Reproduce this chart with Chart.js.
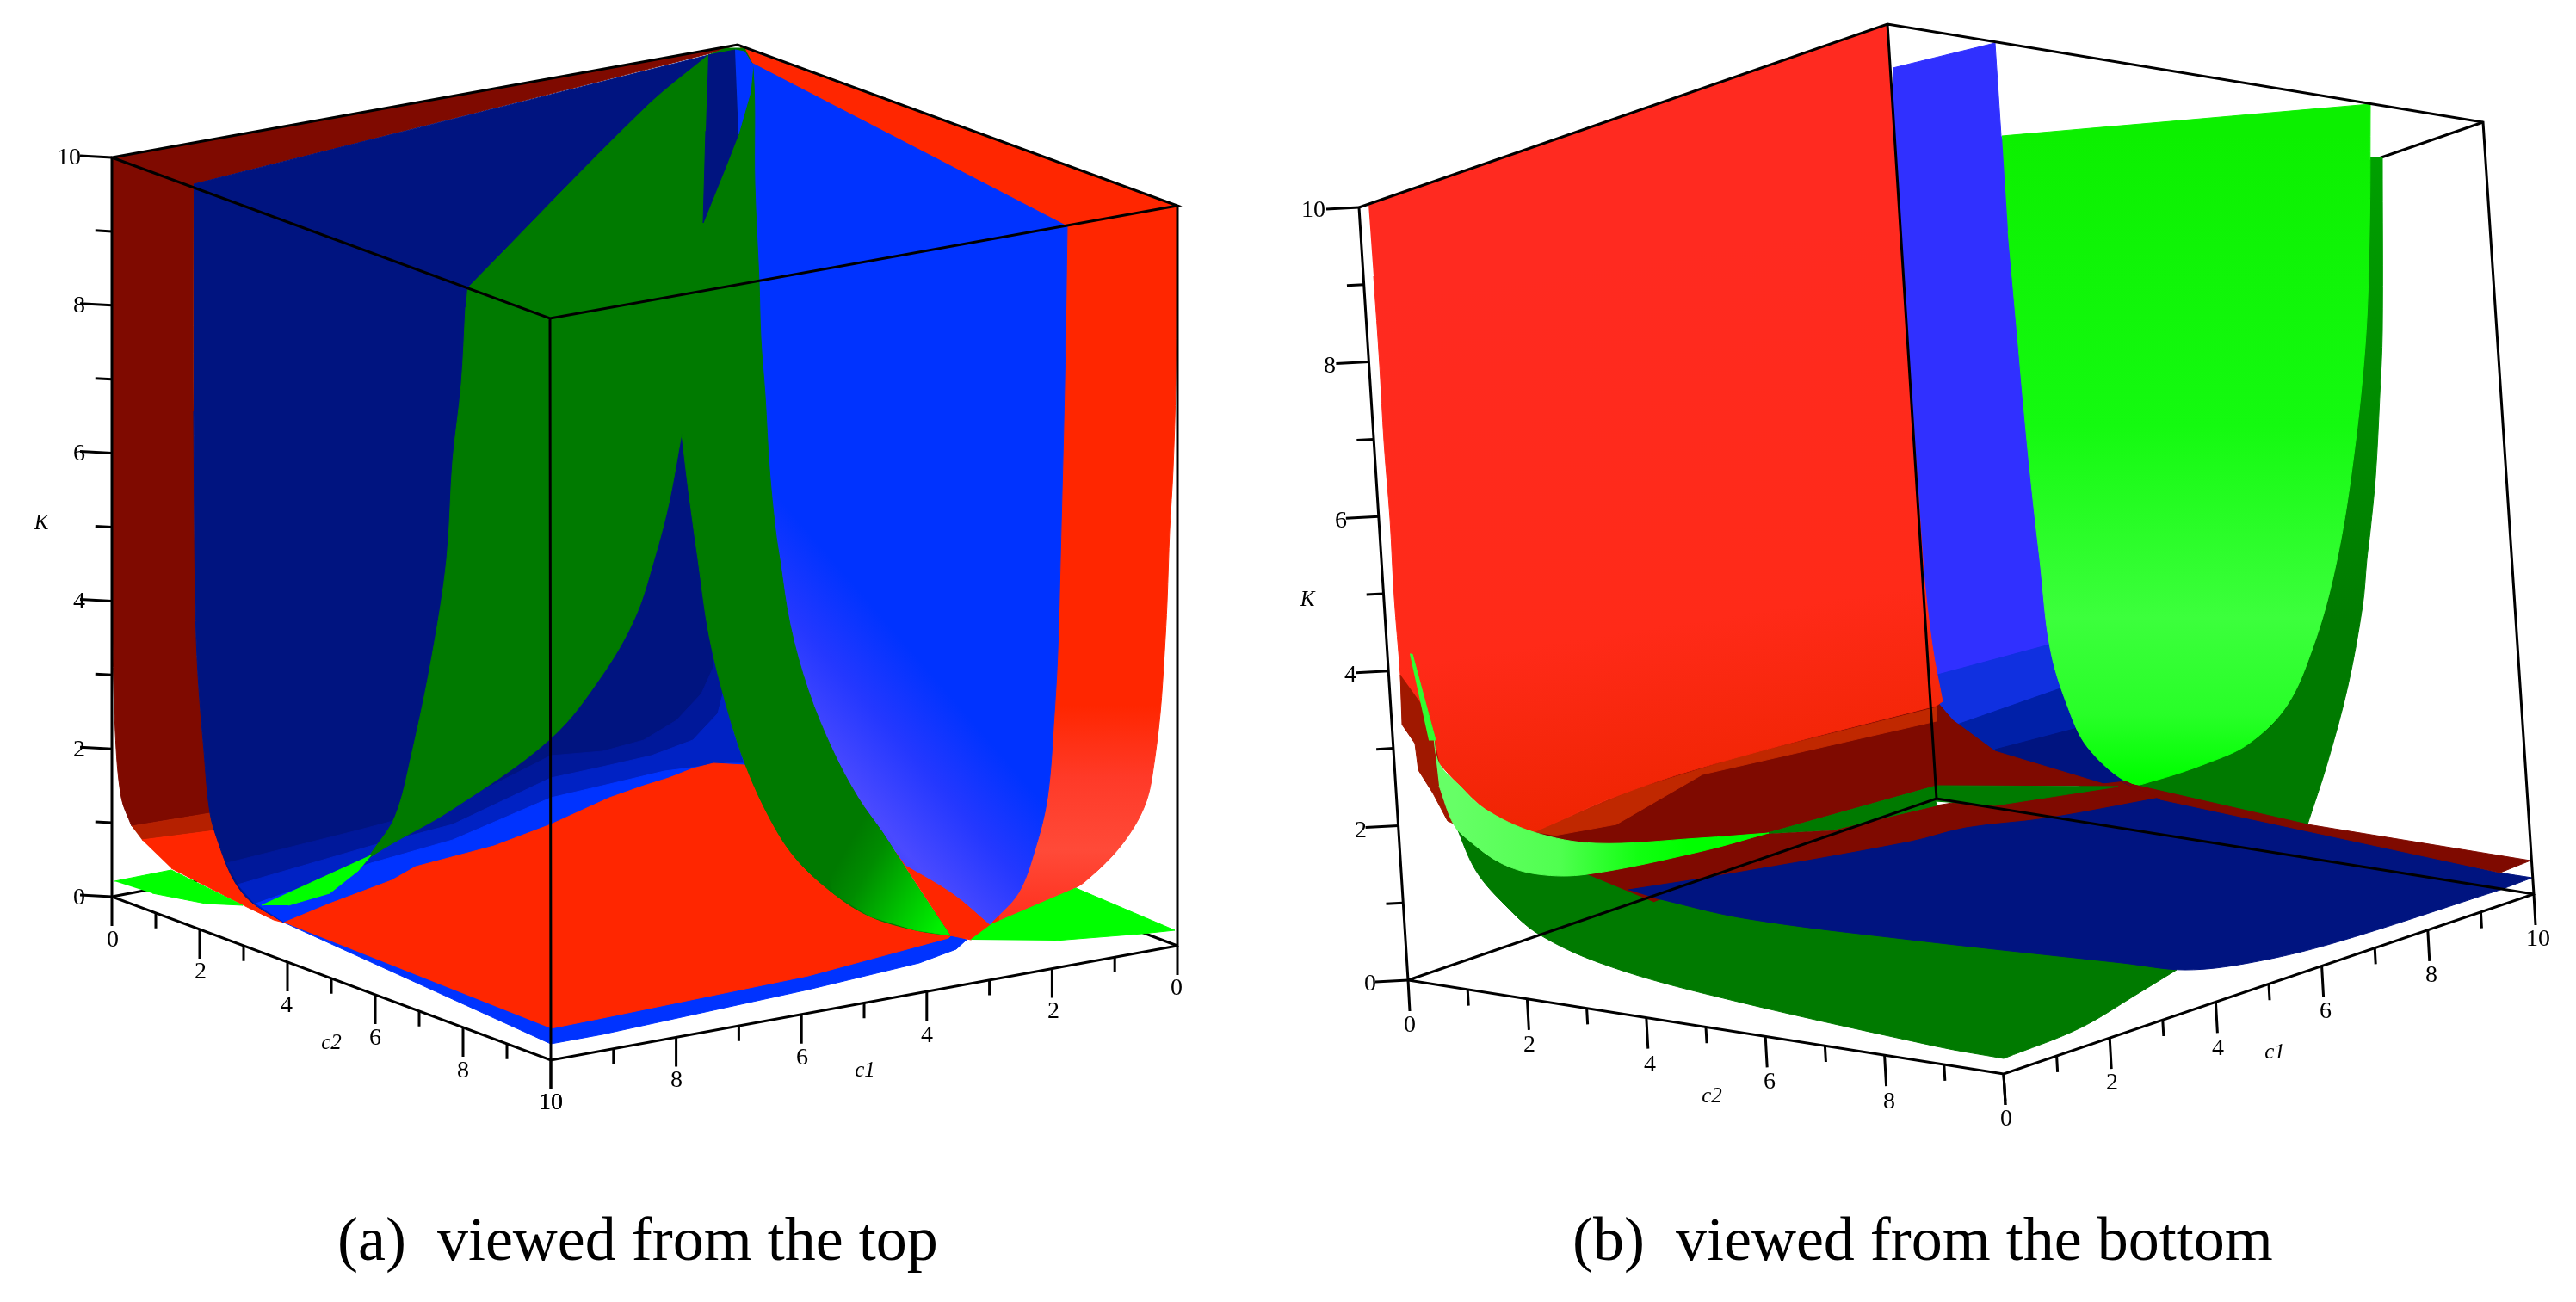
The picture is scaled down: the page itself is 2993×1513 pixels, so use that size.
<!DOCTYPE html>
<html>
<head>
<meta charset="utf-8">
<title>viewed from the top and the bottom</title>
<script src="https://cdn.jsdelivr.net/npm/chart.js@4/dist/chart.umd.min.js"></script>
<style>
  html, body { margin: 0; padding: 0; background: #fff; }
  canvas { display: block; }
</style>
</head>
<body>
<canvas id="myChart" width="2993" height="1513"></canvas>
<script>
// tick labels
const kTicks = [0, 2, 4, 6, 8, 10];
const cTicksA = [0, 2, 4, 6, 8, 10];
const c1TicksB = [0, 2, 4, 6, 8, 10];
const c2TicksB = [0, 2, 4, 6, 8];

// cube corners, panel (a)
const aTopLeft = [130, 183], aTopBack = [857, 52], aTopRight = [1368, 239], aTopFront = [639, 370];
const aOrigin = [130, 1042], aBottomBack = [857, 905], aBottomRight = [1368, 1099], aBottomFront = [640, 1232];

// cube corners, panel (b)
const bTopLeft = [1579, 241], bTopBack = [2193, 28], bTopRight = [2885, 142], bTopFront = [2271, 355];
const bOrigin = [1636, 1139], bBottomBack = [2250, 928], bBottomRight = [2944, 1039], bBottomFront = [2328, 1248];

// panel (a) surfaces, projected outlines
const aDarkRedWall = [[130,183],[857,52],[825,62],[225,214],[225,478],[227,700],[230,784],[237,873],[244,945],[153,960],[141,927],[134,851],[130,700]];
const aRedCurtainShade = [[153,960],[244,945],[250,965],[165,976]];
const aRedCurtain = [[165,976],[250,965],[262,1000],[297,1052],[330,1072],[318,1069],[287,1054],[199,1009]];
const aNavyWall = [[225,214],[823,64],[858,58],[860,889],[640,958],[330,1072],[297,1052],[282,1038],[268,1016],[254,980],[244,945],[237,873],[230,784],[227,700],[225,478]];
const aBlueBand1 = [[263,1003],[407,967],[526,936],[640,878],[700,873],[748,860],[786,837],[815,806],[829,775],[827,746],[880,746],[880,889],[330,1072],[297,1052],[282,1038]];
const aBlueBand2 = [[276,1028],[431,983],[526,958],[640,904],[700,891],[757,878],[805,860],[834,829],[841,802],[833,779],[880,779],[880,889],[330,1072],[297,1052]];
const aBlueBand3 = [[297,1050],[431,1003],[526,976],[640,927],[700,913],[772,896],[844,887],[865,887],[853,851],[844,815],[880,815],[880,900],[330,1072]];
const aBlueStrip = [[330,1072],[640,1213],[700,1202],[939,1150],[1068,1119],[1111,1103],[1123,1092],[1100,1080],[640,1180]];
const aRedWall = [[860,55],[1368,239],[1366,446],[1363,545],[1359,616],[1356,700],[1353,757],[1348,829],[1339,900],[1332,931],[1317,962],[1293,994],[1260,1025],[1249,1032],[1202,1056],[1152,1074],[1100,900]];
const aRedSliver = [[1040,990],[1160,1000],[1160,1075],[1128,1092],[1104,1087]];
const aBlueWall = [[854,58],[875,74],[1240,263],[1237,446],[1232,650],[1229,757],[1225,829],[1217,927],[1202,989],[1183,1038],[1150,1074],[1107,1038],[1052,1005],[950,860],[860,650]];
const aRedFloor = [[330,1072],[383,1050],[455,1023],[483,1007],[574,983],[640,958],[708,927],[748,913],[777,904],[805,893],[829,887],[865,889],[1000,960],[1107,1085],[1102,1090],[939,1134],[700,1183],[640,1195]];
const aGreenRibbons = [[543,335],[750,125],[823,64],[843,56],[865,56],[875,80],[877,214],[882,328],[884,393],[889,460],[894,545],[901,616],[906,650],[918,726],[939,802],[968,873],[997,927],[1025,967],[1054,1012],[1083,1056],[1104,1087],[1064,1081],[1011,1065],[968,1038],[925,998],[896,954],[867,891],[844,820],[824,739],[811,650],[800,570],[792,504],[777,585],[760,650],[738,717],[700,784],[640,858],[526,940],[433,994],[416,1012],[433,989],[459,949],[478,878],[502,762],[519,650],[526,536],[536,446],[541,357]];
const aGreenTail = [[1005,940],[1025,967],[1054,1012],[1083,1056],[1104,1087],[1064,1081],[1011,1065],[968,1038],[960,1000]];
const aNavyStrip = [[823,64],[854,58],[858,156],[844,192],[817,259],[820,152]];
const aBlueSliver = [[854,58],[865,60],[875,76],[872,107],[858,156]];
const aLimeLeft = [[133,1024],[199,1011],[282,1052],[239,1050],[177,1038]];
const aLimeMiddle = [[304,1052],[431,994],[416,1012],[383,1038],[335,1052]];
const aLimeRight = [[1128,1092],[1152,1074],[1250,1032],[1365,1081],[1327,1085],[1226,1093]];

// panel (b) surfaces
const bBlueWall = [[2199,79],[2318,50],[2325,158],[2420,400],[2490,930],[2318,890],[2255,850],[2235,806],[2222,650],[2205,400]];
const bBlueBand1 = [[2240,787],[2385,748],[2426,860],[2490,930],[2318,890],[2255,850]];
const bBlueBand2 = [[2274,842],[2394,800],[2432,880],[2490,930],[2318,890]];
const bBlueBand3 = [[2318,871],[2414,846],[2490,930],[2318,890]];
const bGreenWall = [[2754,183],[2768,183],[2768,384],[2765,460],[2760,554],[2754,616],[2750,650],[2745,704],[2728,797],[2704,887],[2681,958],[2540,960],[2480,915],[2600,800],[2700,500]];
const bLimeWall = [[2326,158],[2754,121],[2753,268],[2748,402],[2731,558],[2711,670],[2687,753],[2657,820],[2613,864],[2564,887],[2500,908],[2475,911],[2426,869],[2402,820],[2382,753],[2370,650],[2362,580],[2353,491],[2343,379],[2333,268]];
const bUpperRedPlate = [[1782,967],[1978,882],[2122,851],[2250,815],[2269,837],[2318,873],[2451,913],[2250,913],[2050,969],[1860,1015]];
const bUpperRedShade = [[1782,967],[1897,918],[2026,878],[2250,822],[2250,838],[1978,900],[1878,958],[1806,971]];
const bGreenSliver = [[2050,969],[2250,913],[2461,914],[2318,936],[2249,931],[2250,936],[2127,965]];
const bLowerGreen = [[1691,958],[1715,1012],[1749,1052],[1787,1085],[1859,1119],[1978,1154],[2250,1216],[2328,1230],[2416,1195],[2485,1154],[2529,1127],[2500,1060],[2250,1000],[1921,1030],[1844,1016],[1787,1016]];
const bLowerRedPlate = [[1844,1016],[2050,969],[2127,965],[2250,936],[2318,925],[2470,908],[2520,932],[2377,960],[2220,985],[1978,1025],[1921,1048]];
const bNavyPlate = [[1892,1034],[2007,1016],[2220,978],[2284,962],[2377,951],[2510,927],[2466,909],[2903,1014],[2942,1020],[2905,1034],[2711,1096],[2613,1119],[2539,1127],[2466,1119],[2220,1092],[2026,1067],[1921,1043]];
const bRedStrip = [[2466,909],[2681,958],[2940,1000],[2905,1014],[2510,929]];
const bRedWall = [[1590,237],[2193,28],[2234,650],[2245,750],[2257,815],[2250,820],[2026,878],[1897,918],[1782,967],[1754,958],[1725,940],[1696,913],[1672,887],[1660,850],[1629,829],[1627,784],[1620,695],[1615,603],[1608,513],[1603,424],[1596,321]];
const bRedFringe = [[1627,784],[1629,842],[1644,864],[1648,895],[1665,922],[1682,954],[1691,958],[1672,887],[1660,830]];
const bLimeRibbon = [[1665,851],[1672,887],[1696,913],[1725,940],[1782,967],[1854,980],[1974,974],[2055,968],[1978,989],[1844,1016],[1787,1016],[1744,1003],[1706,976],[1689,958],[1672,913]];
const bLimeThin = [[1638,760],[1641,760],[1668,860],[1660,860]];

const paint = document.getElementById('myChart').getContext('2d');

function gradient(x0, y0, x1, y1, stops) {
    const g = paint.createLinearGradient(x0, y0, x1, y1);
    stops.forEach(s => g.addColorStop(s[0], s[1]));
    return g;
}

// corners are listed by index: a doubled point stops the spline there and keeps the corner sharp
function surface(points, color, corners) {
    const pts = [];
    points.forEach((p, i) => {
        pts.push({ x: p[0], y: p[1] });
        if (corners && corners.includes(i)) pts.push({ x: p[0], y: p[1] });
    });
    return {
        type: 'line',
        data: pts,
        backgroundColor: color,
        borderColor: color,
        borderWidth: 1,
        fill: 'shape',
        pointRadius: 0,
        tension: corners ? 0.35 : 0
    };
}

function edges(points, width) {
    return {
        type: 'line',
        data: points.map(p => (p ? { x: p[0], y: p[1] } : { x: null, y: null })),
        borderColor: '#000',
        borderWidth: width,
        fill: false,
        pointRadius: 0,
        tension: 0,
        spanGaps: false
    };
}

// tick marks along an axis from start to end, every second one is long
function tickMarks(start, end, steps, dx, dy) {
    const segs = [];
    for (let i = 0; i <= steps; i++) {
        const x = start[0] + (end[0] - start[0]) * i / steps;
        const y = start[1] + (end[1] - start[1]) * i / steps;
        const len = i % 2 === 0 ? 1 : 0.52;
        segs.push([x, y], [x + dx * len, y + dy * len], null);
    }
    return segs;
}

const paintOrder = [
    // panel (a), back to front
    edges([aOrigin, aBottomBack, aBottomRight], 3),
    surface(aDarkRedWall, '#7f0a00', [0, 1, 2, 3, 8, 9]),
    surface(aRedCurtainShade, '#b52000'),
    surface(aRedCurtain, '#ff2600'),
    surface(aNavyWall, '#001480', [0, 1, 2, 3, 4, 5]),
    surface(aBlueBand1, '#00189a'),
    surface(aBlueBand2, '#0022c4'),
    surface(aBlueBand3, '#0033ff'),
    surface(aBlueStrip, '#0033ff'),
    surface(aRedWall, gradient(0, 820, 0, 1060, [[0, '#ff2600'], [0.35, '#ff3a28'], [0.7, '#ff4a38'], [1, '#ff3320']]), [0, 1, 15]),
    surface(aRedSliver, '#ff2600'),
    surface(aBlueWall, gradient(1210, 930, 1060, 1060, [[0, '#0033ff'], [0.4, '#2438ff'], [0.8, '#4a4aff'], [1, '#3a3aff']]), [0, 1, 2, 10, 12]),
    surface(aRedFloor, '#ff2600'),
    surface(aGreenRibbons, '#007a00', [0, 2, 3, 4, 20, 31, 39]),
    surface(aGreenTail, gradient(975, 1000, 1095, 1070, [[0, '#007a00'], [0.25, '#008c00'], [1, '#00f000']])),
    surface(aNavyStrip, '#001480'),
    surface(aBlueSliver, '#0033ff'),
    surface(aLimeLeft, '#00ff00'),
    surface(aLimeMiddle, '#00ff00'),
    surface(aLimeRight, '#00ff00'),
    edges([aTopLeft, aTopFront, aTopRight, aTopBack, aTopLeft, aOrigin, aBottomFront, aBottomRight, aTopRight, null, aTopFront, aBottomFront], 3),
    edges(tickMarks(aTopLeft, aOrigin, 10, -37, -2), 3),
    edges(tickMarks(aOrigin, aBottomFront, 10, 0, 34), 3),
    edges(tickMarks(aBottomRight, aBottomFront, 10, 0, 34), 3),

    // panel (b), back to front
    edges([bTopRight, bTopFront], 3),
    surface(bBlueWall, '#3030ff'),
    surface(bBlueBand1, '#1030e0'),
    surface(bBlueBand2, '#0020a8'),
    surface(bBlueBand3, '#001480'),
    surface(bGreenWall, gradient(0, 183, 0, 720, [[0, '#00a000'], [1, '#007a00']]), [0, 1, 10, 11, 12]),
    surface(bLimeWall, gradient(0, 158, 0, 905, [[0, '#0cf000'], [0.45, '#14fa10'], [0.75, '#3cff3c'], [0.9, '#28ff28'], [1, '#00ff00']]), [0, 1]),
    surface(bUpperRedPlate, '#7f0a00'),
    surface(bUpperRedShade, '#c02800'),
    surface(bLowerGreen, '#007a00', [0, 7, 10, 11, 12, 13, 14, 15]),
    surface(bLowerRedPlate, '#7f0a00'),
    surface(bGreenSliver, '#007a00'),
    surface(bNavyPlate, '#001480', [0, 5, 6, 7, 8, 9]),
    surface(bRedStrip, '#7f0a00'),
    surface(bRedWall, gradient(1900, 300, 2000, 950, [[0, '#ff2a20'], [0.65, '#ff2a18'], [1, '#ee2400']]), [0, 1, 4, 5, 8, 12, 13, 14]),
    surface(bRedFringe, '#a01800'),
    surface(bLimeRibbon, gradient(1690, 0, 1960, 0, [[0, '#66ff66'], [0.45, '#50ff50'], [0.8, '#10ff10'], [1, '#00ff00']]), [0, 7]),
    surface(bLimeThin, '#30ff30'),
    edges([bTopLeft, bTopBack, bTopRight, bBottomRight, bBottomFront, bOrigin, bTopLeft, null, bOrigin, bBottomBack, bBottomRight, null, bBottomBack, bTopBack, null, bBottomFront, [2330, 1280]], 3),
    edges(tickMarks(bTopLeft, bOrigin, 10, -38, 2), 3),
    edges(tickMarks(bOrigin, bBottomFront, 10, 2, 36), 3),
    edges(tickMarks(bBottomFront, bBottomRight, 10, 2, 36), 3)
];

// where the tick numbers and the axis names sit
const tickLabelsA = [
    { list: kTicks, x: [92, 92, 92, 92, 92, 80], y: [1044, 872, 700, 528, 356, 184] },
    { list: cTicksA, x: [131, 233, 333, 436, 538, 640], y: [1093, 1130, 1169, 1207, 1245, 1282] },
    { list: cTicksA, x: [1367, 1224, 1077, 932, 786, 640], y: [1149, 1176, 1204, 1230, 1256, 1282] }
];
const tickLabelsB = [
    { list: kTicks, x: [1592, 1581, 1569, 1558, 1545, 1526], y: [1144, 966, 785, 606, 426, 245] },
    { list: c2TicksB, x: [1638, 1777, 1917, 2056, 2195], y: [1192, 1215, 1238, 1258, 1281] },
    { list: c1TicksB, x: [2331, 2454, 2577, 2702, 2825, 2949], y: [1301, 1259, 1219, 1176, 1134, 1092] }
];
const axisNames = [
    { text: 'K', x: 48, y: 608 }, { text: 'c2', x: 385, y: 1212 }, { text: 'c1', x: 1005, y: 1244 },
    { text: 'K', x: 1519, y: 697 }, { text: 'c2', x: 1989, y: 1274 }, { text: 'c1', x: 2643, y: 1223 }
];
const captions = [
    { text: '(a)  viewed from the top', x: 392, y: 1464 },
    { text: '(b)  viewed from the bottom', x: 1827, y: 1464 }
];

const textPlugin = {
    id: 'figureText',
    afterDatasetsDraw(chart) {
        const ctx = chart.ctx;
        const sx = chart.scales.x, sy = chart.scales.y;
        ctx.save();
        ctx.fillStyle = '#000';
        ctx.textAlign = 'center';
        ctx.textBaseline = 'middle';
        ctx.font = '28px "Liberation Serif"';
        tickLabelsA.concat(tickLabelsB).forEach(group => {
            group.list.forEach((label, i) => {
                ctx.fillText(String(label), sx.getPixelForValue(group.x[i]), sy.getPixelForValue(group.y[i]));
            });
        });
        ctx.font = 'italic 25px "Liberation Serif"';
        axisNames.forEach(n => ctx.fillText(n.text, sx.getPixelForValue(n.x), sy.getPixelForValue(n.y)));
        ctx.textAlign = 'left';
        ctx.textBaseline = 'alphabetic';
        ctx.font = '72px "Liberation Serif"';
        captions.forEach(c => ctx.fillText(c.text, sx.getPixelForValue(c.x), sy.getPixelForValue(c.y)));
        ctx.restore();
    }
};

document.addEventListener('DOMContentLoaded', function() {
    new Chart(document.getElementById('myChart'), {
        type: 'line',
        // chart.js paints dataset 0 last, so the list goes in reversed
        data: { datasets: paintOrder.slice().reverse() },
        options: {
            responsive: false,
            animation: false,
            parsing: { xAxisKey: 'x', yAxisKey: 'y' },
            layout: { padding: 0 },
            plugins: { legend: { display: false }, title: { display: false }, tooltip: { enabled: false } },
            scales: {
                x: { type: 'linear', display: false, min: 0, max: 2993 },
                y: { type: 'linear', display: false, min: 0, max: 1513, reverse: true }
            }
        },
        plugins: [textPlugin]
    });
});
</script>
</body>
</html>
